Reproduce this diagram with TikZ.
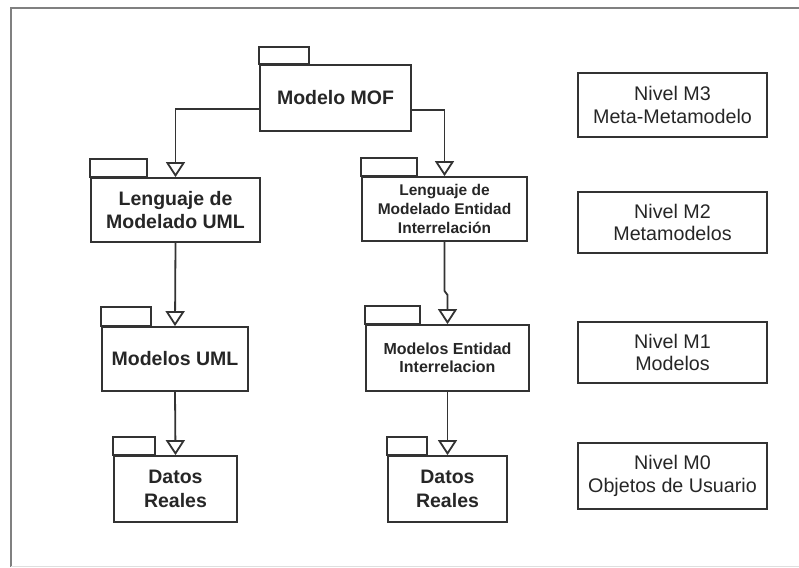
\documentclass[tikz,border=0pt]{standalone}
\usepackage{fontspec}
\setmainfont{Liberation Sans}
\usetikzlibrary{arrows.meta}
\definecolor{ln}{gray}{0.2}
\definecolor{tx}{gray}{0.15}
\definecolor{fr}{gray}{0.5}
\tikzset{
  pkg/.style={draw=ln, line width=1.8pt, inner sep=0pt, align=center, text=tx,
    font=\bfseries\fontsize{19.5}{23.5}\selectfont},
  pkgsmall/.style={pkg, font=\bfseries\fontsize{15.5}{19}\selectfont},
  pkgmid/.style={pkg, font=\bfseries\fontsize{16}{18.5}\selectfont},
  tab/.style={draw=ln, line width=1.8pt},
  lvl/.style={draw=ln, line width=1.8pt, inner sep=0pt, align=center, text=tx,
    minimum width=189pt, font=\fontsize{19.7}{22.5}\selectfont},
  conn/.style={draw=ln, line width=1.8pt, -{Triangle[open, length=15pt, width=19pt]}}
}
\begin{document}
\begin{tikzpicture}[x=1pt, y=-1pt]
\useasboundingbox (0,0) rectangle (799,567);
% frame
\draw[fr, line width=1.8pt] (799,8) -- (11,8) -- (11,567);
\draw[gray!25, line width=1pt] (11,566) -- (799,566);

% packages
\node[pkg, minimum width=151pt, minimum height=66pt] (mof) at (335.5,98) {Modelo MOF};
\draw[tab] (mof.north west) rectangle ++(50,-17);

\node[pkg, minimum width=169pt, minimum height=64pt] (umll) at (175.5,210) {Lenguaje de\\Modelado UML};
\draw[tab] (umll.north west) rectangle ++(57,-18);

\node[pkgsmall, minimum width=165pt, minimum height=64pt] (erl) at (444.5,209) {Lenguaje de\\Modelado Entidad\\Interrelación};
\draw[tab] (erl.north west) rectangle ++(56,-18);

\node[pkg, minimum width=146pt, minimum height=64pt] (umlm) at (175,359) {Modelos UML};
\draw[tab] (umlm.north west) rectangle ++(50,-19);

\node[pkgmid, minimum width=163pt, minimum height=66pt] (erm) at (447.5,358) {Modelos Entidad\\Interrelacion};
\draw[tab] (erm.north west) rectangle ++(55,-18);

\node[pkg, minimum width=123pt, minimum height=66pt] (umld) at (175.5,489) {Datos\\Reales};
\draw[tab] (umld.north west) rectangle ++(42,-18);

\node[pkg, minimum width=119pt, minimum height=66pt] (erd) at (447.5,489) {Datos\\Reales};
\draw[tab] (erd.north west) rectangle ++(40,-18);

% levels
\node[lvl, minimum height=64pt] (m3) at (672.5,105) {Nivel M3\\Meta-Metamodelo};
\node[lvl, minimum height=61pt] (m2) at (672.5,222.5) {Nivel M2\\Metamodelos};
\node[lvl, minimum height=61pt] (m1) at (672.5,352.5) {Nivel M1\\Modelos};
\node[lvl, minimum height=66pt] (m0) at (672.5,476) {Nivel M0\\Objetos de Usuario};

% connectors
\draw[conn] ([yshift=-11pt]mof.west) -| (umll.north);
\draw[conn] ([yshift=-12pt]mof.east) -| (erl.north);
\draw[conn] (umll.south) -- (umlm.north);
\coordinate (jog) at (0,295);
\draw[conn] (erl.south) -- ++(0,49) -- (erm.north |- jog) -- (erm.north);
\draw[conn] (umlm.south) -- (umld.north);
\draw[conn] (erm.south) -- (erd.north);
\end{tikzpicture}
\end{document}
